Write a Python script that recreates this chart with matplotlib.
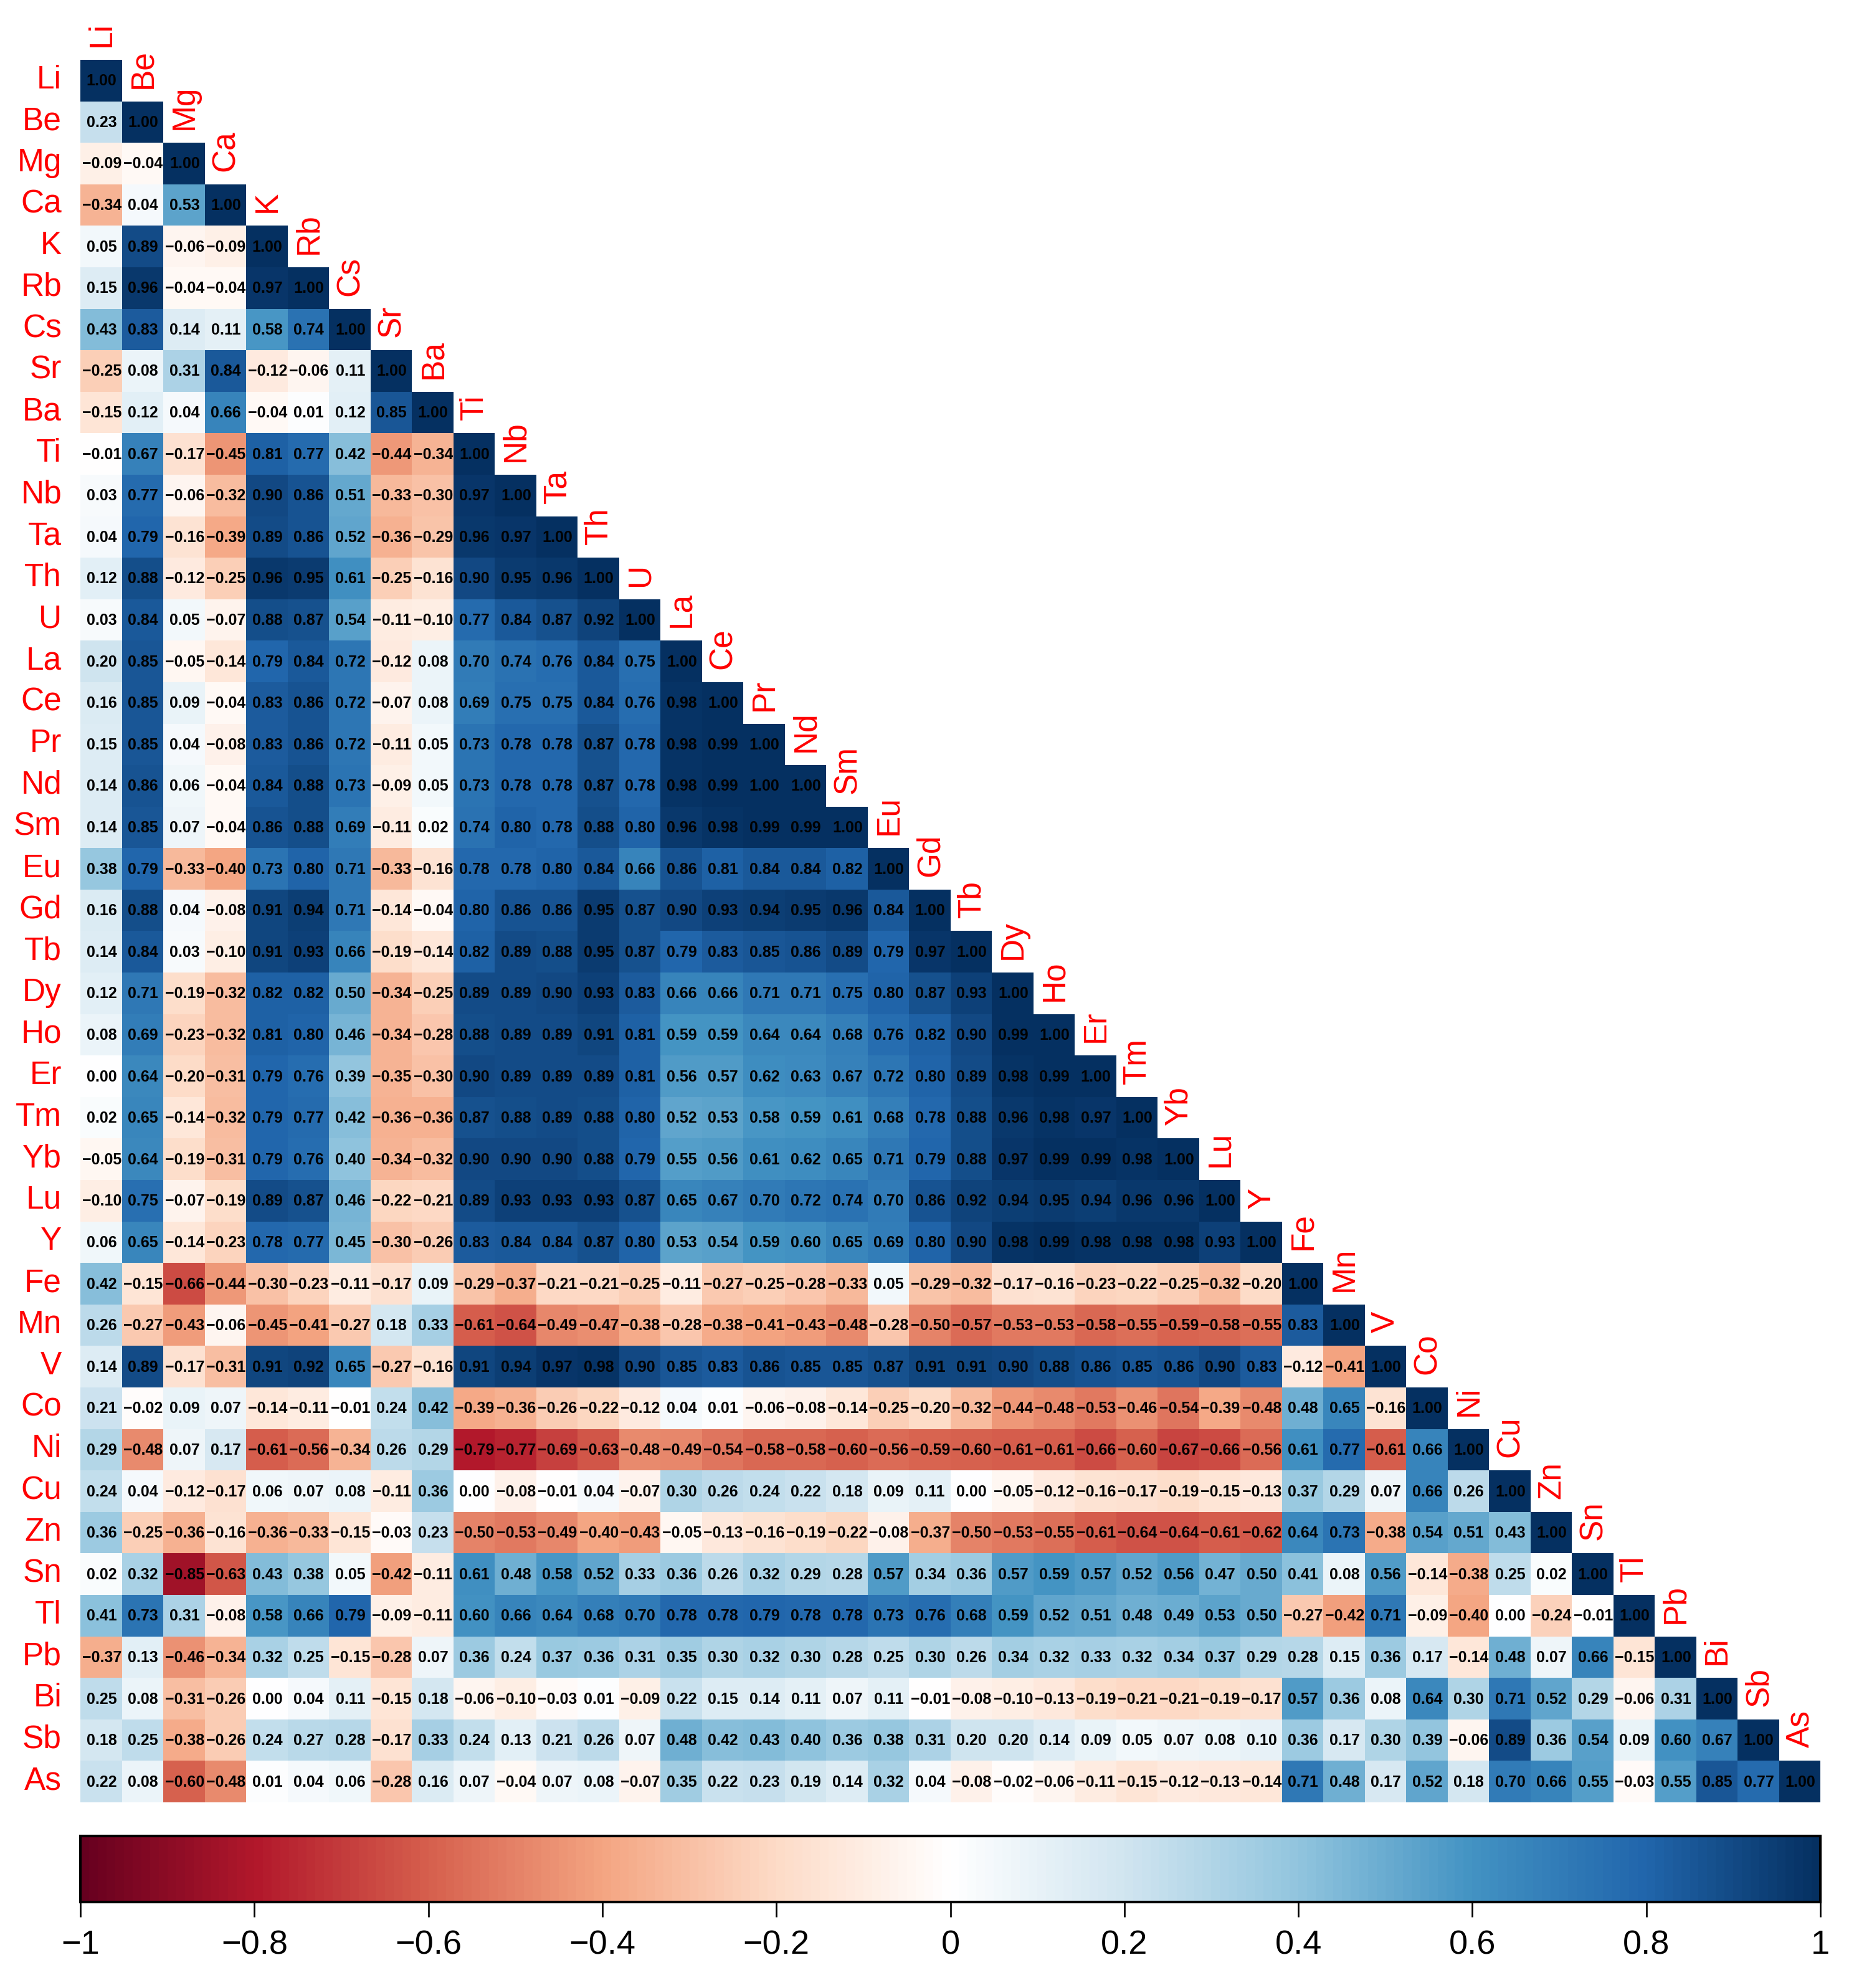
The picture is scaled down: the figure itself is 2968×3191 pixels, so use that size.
import numpy as np
import matplotlib
matplotlib.use('Agg')
import matplotlib.pyplot as plt
from matplotlib.colors import LinearSegmentedColormap

plt.rcParams['font.family'] = ['Liberation Sans', 'DejaVu Sans']

elements = ['Li', 'Be', 'Mg', 'Ca', 'K', 'Rb', 'Cs', 'Sr', 'Ba', 'Ti', 'Nb', 'Ta', 'Th', 'U',
            'La', 'Ce', 'Pr', 'Nd', 'Sm', 'Eu', 'Gd', 'Tb', 'Dy', 'Ho', 'Er', 'Tm', 'Yb', 'Lu',
            'Y', 'Fe', 'Mn', 'V', 'Co', 'Ni', 'Cu', 'Zn', 'Sn', 'Tl', 'Pb', 'Bi', 'Sb', 'As']

# lower triangle, one list per row
r_Li = [1.00]
r_Be = [0.23, 1.00]
r_Mg = [-0.09, -0.04, 1.00]
r_Ca = [-0.34, 0.04, 0.53, 1.00]
r_K = [0.05, 0.89, -0.06, -0.09, 1.00]
r_Rb = [0.15, 0.96, -0.04, -0.04, 0.97, 1.00]
r_Cs = [0.43, 0.83, 0.14, 0.11, 0.58, 0.74, 1.00]
r_Sr = [-0.25, 0.08, 0.31, 0.84, -0.12, -0.06, 0.11, 1.00]
r_Ba = [-0.15, 0.12, 0.04, 0.66, -0.04, 0.01, 0.12, 0.85, 1.00]
r_Ti = [-0.01, 0.67, -0.17, -0.45, 0.81, 0.77, 0.42, -0.44, -0.34, 1.00]
r_Nb = [0.03, 0.77, -0.06, -0.32, 0.90, 0.86, 0.51, -0.33, -0.30, 0.97, 1.00]
r_Ta = [0.04, 0.79, -0.16, -0.39, 0.89, 0.86, 0.52, -0.36, -0.29, 0.96, 0.97, 1.00]
r_Th = [0.12, 0.88, -0.12, -0.25, 0.96, 0.95, 0.61, -0.25, -0.16, 0.90, 0.95, 0.96, 1.00]
r_U = [0.03, 0.84, 0.05, -0.07, 0.88, 0.87, 0.54, -0.11, -0.10, 0.77, 0.84, 0.87, 0.92, 1.00]
r_La = [0.20, 0.85, -0.05, -0.14, 0.79, 0.84, 0.72, -0.12, 0.08, 0.70, 0.74, 0.76, 0.84, 0.75, 1.00]
r_Ce = [0.16, 0.85, 0.09, -0.04, 0.83, 0.86, 0.72, -0.07, 0.08, 0.69, 0.75, 0.75, 0.84, 0.76, 0.98, 1.00]
r_Pr = [0.15, 0.85, 0.04, -0.08, 0.83, 0.86, 0.72, -0.11, 0.05, 0.73, 0.78, 0.78, 0.87, 0.78, 0.98, 0.99, 1.00]
r_Nd = [0.14, 0.86, 0.06, -0.04, 0.84, 0.88, 0.73, -0.09, 0.05, 0.73, 0.78, 0.78, 0.87, 0.78, 0.98, 0.99, 1.00,
        1.00]
r_Sm = [0.14, 0.85, 0.07, -0.04, 0.86, 0.88, 0.69, -0.11, 0.02, 0.74, 0.80, 0.78, 0.88, 0.80, 0.96, 0.98, 0.99,
        0.99, 1.00]
r_Eu = [0.38, 0.79, -0.33, -0.40, 0.73, 0.80, 0.71, -0.33, -0.16, 0.78, 0.78, 0.80, 0.84, 0.66, 0.86, 0.81, 0.84,
        0.84, 0.82, 1.00]
r_Gd = [0.16, 0.88, 0.04, -0.08, 0.91, 0.94, 0.71, -0.14, -0.04, 0.80, 0.86, 0.86, 0.95, 0.87, 0.90, 0.93, 0.94,
        0.95, 0.96, 0.84, 1.00]
r_Tb = [0.14, 0.84, 0.03, -0.10, 0.91, 0.93, 0.66, -0.19, -0.14, 0.82, 0.89, 0.88, 0.95, 0.87, 0.79, 0.83, 0.85,
        0.86, 0.89, 0.79, 0.97, 1.00]
r_Dy = [0.12, 0.71, -0.19, -0.32, 0.82, 0.82, 0.50, -0.34, -0.25, 0.89, 0.89, 0.90, 0.93, 0.83, 0.66, 0.66, 0.71,
        0.71, 0.75, 0.80, 0.87, 0.93, 1.00]
r_Ho = [0.08, 0.69, -0.23, -0.32, 0.81, 0.80, 0.46, -0.34, -0.28, 0.88, 0.89, 0.89, 0.91, 0.81, 0.59, 0.59, 0.64,
        0.64, 0.68, 0.76, 0.82, 0.90, 0.99, 1.00]
r_Er = [0.00, 0.64, -0.20, -0.31, 0.79, 0.76, 0.39, -0.35, -0.30, 0.90, 0.89, 0.89, 0.89, 0.81, 0.56, 0.57, 0.62,
        0.63, 0.67, 0.72, 0.80, 0.89, 0.98, 0.99, 1.00]
r_Tm = [0.02, 0.65, -0.14, -0.32, 0.79, 0.77, 0.42, -0.36, -0.36, 0.87, 0.88, 0.89, 0.88, 0.80, 0.52, 0.53, 0.58,
        0.59, 0.61, 0.68, 0.78, 0.88, 0.96, 0.98, 0.97, 1.00]
r_Yb = [-0.05, 0.64, -0.19, -0.31, 0.79, 0.76, 0.40, -0.34, -0.32, 0.90, 0.90, 0.90, 0.88, 0.79, 0.55, 0.56, 0.61,
        0.62, 0.65, 0.71, 0.79, 0.88, 0.97, 0.99, 0.99, 0.98, 1.00]
r_Lu = [-0.10, 0.75, -0.07, -0.19, 0.89, 0.87, 0.46, -0.22, -0.21, 0.89, 0.93, 0.93, 0.93, 0.87, 0.65, 0.67, 0.70,
        0.72, 0.74, 0.70, 0.86, 0.92, 0.94, 0.95, 0.94, 0.96, 0.96, 1.00]
r_Y = [0.06, 0.65, -0.14, -0.23, 0.78, 0.77, 0.45, -0.30, -0.26, 0.83, 0.84, 0.84, 0.87, 0.80, 0.53, 0.54, 0.59,
       0.60, 0.65, 0.69, 0.80, 0.90, 0.98, 0.99, 0.98, 0.98, 0.98, 0.93, 1.00]
r_Fe = [0.42, -0.15, -0.66, -0.44, -0.30, -0.23, -0.11, -0.17, 0.09, -0.29, -0.37, -0.21, -0.21, -0.25, -0.11,
        -0.27, -0.25, -0.28, -0.33, 0.05, -0.29, -0.32, -0.17, -0.16, -0.23, -0.22, -0.25, -0.32, -0.20, 1.00]
r_Mn = [0.26, -0.27, -0.43, -0.06, -0.45, -0.41, -0.27, 0.18, 0.33, -0.61, -0.64, -0.49, -0.47, -0.38, -0.28,
        -0.38, -0.41, -0.43, -0.48, -0.28, -0.50, -0.57, -0.53, -0.53, -0.58, -0.55, -0.59, -0.58, -0.55, 0.83, 1.00]
r_V = [0.14, 0.89, -0.17, -0.31, 0.91, 0.92, 0.65, -0.27, -0.16, 0.91, 0.94, 0.97, 0.98, 0.90, 0.85, 0.83, 0.86,
       0.85, 0.85, 0.87, 0.91, 0.91, 0.90, 0.88, 0.86, 0.85, 0.86, 0.90, 0.83, -0.12, -0.41, 1.00]
r_Co = [0.21, -0.02, 0.09, 0.07, -0.14, -0.11, -0.01, 0.24, 0.42, -0.39, -0.36, -0.26, -0.22, -0.12, 0.04, 0.01,
        -0.06, -0.08, -0.14, -0.25, -0.20, -0.32, -0.44, -0.48, -0.53, -0.46, -0.54, -0.39, -0.48, 0.48, 0.65, -0.16,
        1.00]
r_Ni = [0.29, -0.48, 0.07, 0.17, -0.61, -0.56, -0.34, 0.26, 0.29, -0.79, -0.77, -0.69, -0.63, -0.48, -0.49, -0.54,
        -0.58, -0.58, -0.60, -0.56, -0.59, -0.60, -0.61, -0.61, -0.66, -0.60, -0.67, -0.66, -0.56, 0.61, 0.77, -0.61,
        0.66, 1.00]
r_Cu = [0.24, 0.04, -0.12, -0.17, 0.06, 0.07, 0.08, -0.11, 0.36, 0.00, -0.08, -0.01, 0.04, -0.07, 0.30, 0.26, 0.24,
        0.22, 0.18, 0.09, 0.11, 0.00, -0.05, -0.12, -0.16, -0.17, -0.19, -0.15, -0.13, 0.37, 0.29, 0.07, 0.66, 0.26,
        1.00]
r_Zn = [0.36, -0.25, -0.36, -0.16, -0.36, -0.33, -0.15, -0.03, 0.23, -0.50, -0.53, -0.49, -0.40, -0.43, -0.05,
        -0.13, -0.16, -0.19, -0.22, -0.08, -0.37, -0.50, -0.53, -0.55, -0.61, -0.64, -0.64, -0.61, -0.62, 0.64, 0.73,
        -0.38, 0.54, 0.51, 0.43, 1.00]
r_Sn = [0.02, 0.32, -0.85, -0.63, 0.43, 0.38, 0.05, -0.42, -0.11, 0.61, 0.48, 0.58, 0.52, 0.33, 0.36, 0.26, 0.32,
        0.29, 0.28, 0.57, 0.34, 0.36, 0.57, 0.59, 0.57, 0.52, 0.56, 0.47, 0.50, 0.41, 0.08, 0.56, -0.14, -0.38, 0.25,
        0.02, 1.00]
r_Tl = [0.41, 0.73, 0.31, -0.08, 0.58, 0.66, 0.79, -0.09, -0.11, 0.60, 0.66, 0.64, 0.68, 0.70, 0.78, 0.78, 0.79,
        0.78, 0.78, 0.73, 0.76, 0.68, 0.59, 0.52, 0.51, 0.48, 0.49, 0.53, 0.50, -0.27, -0.42, 0.71, -0.09, -0.40,
        0.00, -0.24, -0.01, 1.00]
r_Pb = [-0.37, 0.13, -0.46, -0.34, 0.32, 0.25, -0.15, -0.28, 0.07, 0.36, 0.24, 0.37, 0.36, 0.31, 0.35, 0.30, 0.32,
        0.30, 0.28, 0.25, 0.30, 0.26, 0.34, 0.32, 0.33, 0.32, 0.34, 0.37, 0.29, 0.28, 0.15, 0.36, 0.17, -0.14, 0.48,
        0.07, 0.66, -0.15, 1.00]
r_Bi = [0.25, 0.08, -0.31, -0.26, 0.00, 0.04, 0.11, -0.15, 0.18, -0.06, -0.10, -0.03, 0.01, -0.09, 0.22, 0.15,
        0.14, 0.11, 0.07, 0.11, -0.01, -0.08, -0.10, -0.13, -0.19, -0.21, -0.21, -0.19, -0.17, 0.57, 0.36, 0.08,
        0.64, 0.30, 0.71, 0.52, 0.29, -0.06, 0.31, 1.00]
r_Sb = [0.18, 0.25, -0.38, -0.26, 0.24, 0.27, 0.28, -0.17, 0.33, 0.24, 0.13, 0.21, 0.26, 0.07, 0.48, 0.42, 0.43,
        0.40, 0.36, 0.38, 0.31, 0.20, 0.20, 0.14, 0.09, 0.05, 0.07, 0.08, 0.10, 0.36, 0.17, 0.30, 0.39, -0.06, 0.89,
        0.36, 0.54, 0.09, 0.60, 0.67, 1.00]
r_As = [0.22, 0.08, -0.60, -0.48, 0.01, 0.04, 0.06, -0.28, 0.16, 0.07, -0.04, 0.07, 0.08, -0.07, 0.35, 0.22, 0.23,
        0.19, 0.14, 0.32, 0.04, -0.08, -0.02, -0.06, -0.11, -0.15, -0.12, -0.13, -0.14, 0.71, 0.48, 0.17, 0.52, 0.18,
        0.70, 0.66, 0.55, -0.03, 0.55, 0.85, 0.77, 1.00]

rows = [r_Li, r_Be, r_Mg, r_Ca, r_K, r_Rb, r_Cs, r_Sr, r_Ba, r_Ti, r_Nb, r_Ta, r_Th, r_U, r_La, r_Ce, r_Pr, r_Nd,
        r_Sm, r_Eu, r_Gd, r_Tb, r_Dy, r_Ho, r_Er, r_Tm, r_Yb, r_Lu, r_Y, r_Fe, r_Mn, r_V, r_Co, r_Ni, r_Cu, r_Zn,
        r_Sn, r_Tl, r_Pb, r_Bi, r_Sb, r_As]

bar_ticks = [-1, -0.8, -0.6, -0.4, -0.2, 0, 0.2, 0.4, 0.6, 0.8, 1]
bar_labels = ['\u22121', '\u22120.8', '\u22120.6', '\u22120.4', '\u22120.2', '0', '0.2', '0.4', '0.6', '0.8', '1']

n = len(elements)
mat = np.full((n, n), np.nan)
for i, row in enumerate(rows):
    mat[i, :len(row)] = row

# same ramp as corrplot's default
cmap = LinearSegmentedColormap.from_list('corr', ['#67001F', '#B2182B', '#D6604D', '#F4A582', '#FDDBC7', '#FFFFFF',
                                                  '#D1E5F0', '#92C5DE', '#4393C3', '#2166AC', '#053061'], N=200)

W, H = 2968, 3191
fig = plt.figure(figsize=(W / 100, H / 100), dpi=100)


def rect(x0, y0, x1, y1):
    return [x0 / W, 1 - y1 / H, (x1 - x0) / W, (y1 - y0) / H]


ax = fig.add_axes(rect(129, 96, 2922, 2893))
mesh = ax.pcolormesh(np.arange(n + 1), np.arange(n + 1), np.ma.masked_invalid(mat), cmap=cmap, vmin=-1, vmax=1)
ax.set_xlim(0, n)
ax.set_ylim(n, 0)
ax.axis('off')

for i, row in enumerate(rows):
    for j, v in enumerate(row):
        ax.annotate(f'{v:.2f}'.replace('-', '\u2212'), xy=(j + 0.5, i + 0.5), xytext=(1, -1),
                    textcoords='offset pixels', ha='center', va='center', fontsize=18, fontweight='bold',
                    color='black')
    ax.annotate(elements[i], xy=(0, i + 0.5), xytext=(-30, 1), textcoords='offset pixels', ha='right',
                va='center', fontsize=37, color='red')
    ax.annotate(elements[i], xy=(i + 0.5, i), xytext=(1, 21), textcoords='offset pixels', ha='center',
                va='bottom', rotation=90, fontsize=37, color='red')

cax = fig.add_axes(rect(129, 2947, 2922, 3053))
cb = fig.colorbar(mesh, cax=cax, orientation='horizontal', ticks=bar_ticks)
cb.set_ticklabels(bar_labels)
cb.outline.set_linewidth(3)
cb.outline.set_edgecolor('black')
cax.tick_params(axis='x', length=17, width=1.9, pad=15, labelsize=39, color='black')

fig.savefig('out.png', dpi=100, facecolor='white')
